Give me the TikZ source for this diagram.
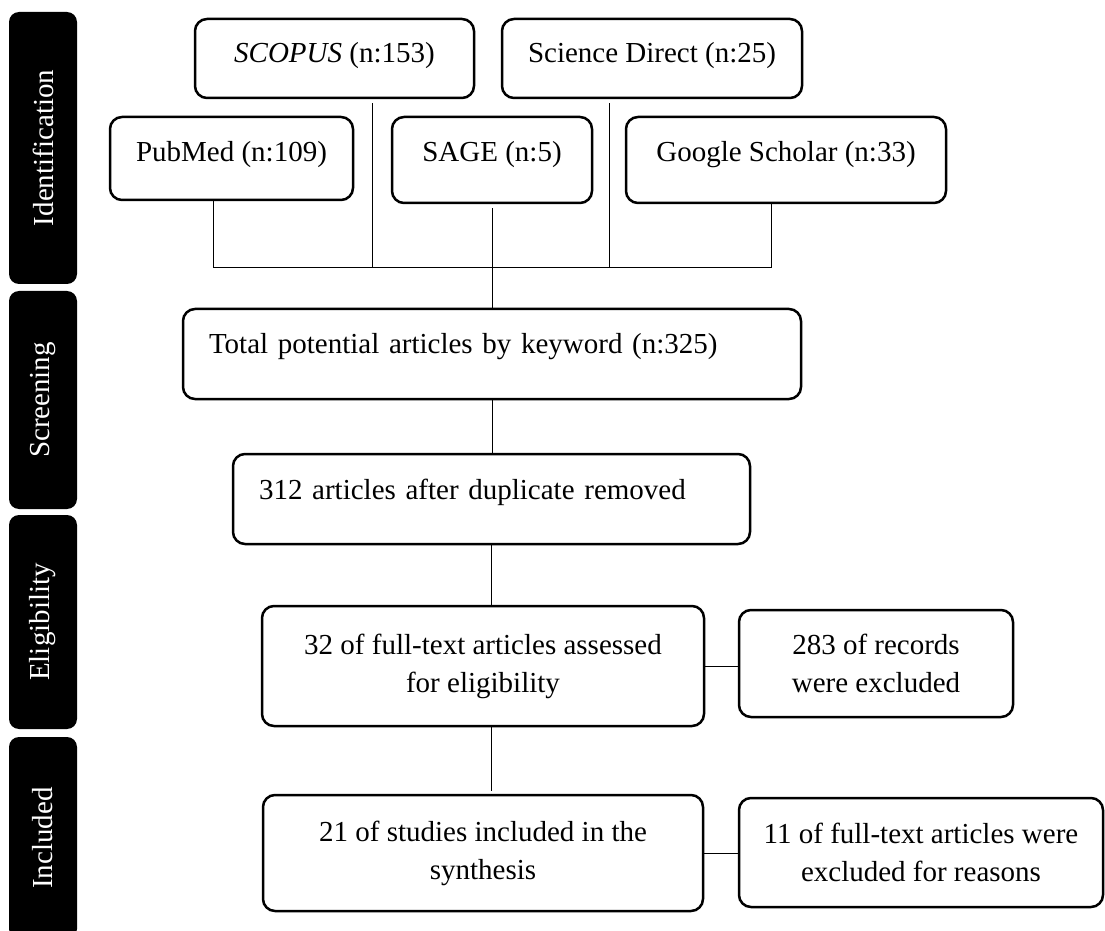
\documentclass[tikz,border=0pt]{standalone}
\usepackage{fontspec}
\setmainfont{Liberation Serif}
\usepackage{tikz}

\begin{document}
\begin{tikzpicture}[x=0.5pt, y=-0.5pt,
    every node/.style={font=\fontsize{14.5}{19}\selectfont},
    phase/.style={fill=black, text=white, rounded corners=5pt, rotate=90, minimum height=34pt, inner sep=0pt},
    srcbox/.style={draw, line width=1.25pt, rounded corners=6pt, align=center},
    connector/.style={line width=0.5pt}]
             \useasboundingbox (0,0) rectangle (1105,931);

             \node[phase, minimum width=136pt] (ident) at (43,148) {Identification};
             \node[phase, minimum width=109pt] (screen) at (43,400) {Screening};
             \node[phase, minimum width=107pt] (elig) at (43,622) {Eligibility};
             \node[phase, minimum width=101pt] (included) at (43,838) {Included};

             \node[srcbox, minimum width=139.5pt, minimum height=39.5pt, text height=10pt, text depth=6pt] (scopus) at (334.5,58.5) {\textit{SCOPUS} (n:153)};
             \node[srcbox, minimum width=150pt, minimum height=39.5pt, text height=10pt, text depth=6pt] (scidir) at (652,58.5) {Science Direct (n:25)};
             \node[srcbox, minimum width=121.5pt, minimum height=41.5pt, text height=10pt, text depth=7pt] (pubmed) at (231.5,158.5) {PubMed (n:109)};
             \node[srcbox, minimum width=100pt, minimum height=43pt, text height=10pt, text depth=8pt] (sage) at (492,160) {SAGE (n:5)};
             \node[srcbox, minimum width=160pt, minimum height=43pt, text height=10pt, text depth=8pt] (google) at (786,160) {Google Scholar (n:33)};

             \node[srcbox, align=left, inner xsep=13pt, text width=283pt, minimum height=45pt, text height=10pt, text depth=11pt] (total) at (492,354) {Total potential articles by keyword (n:325)};
             \node[srcbox, align=left, inner xsep=13pt, text width=232.5pt, minimum height=45pt, text height=10pt, text depth=9.5pt] (dup) at (491.5,499) {312 articles after duplicate removed};
             \node[srcbox, minimum width=221pt, minimum height=60pt] (assess) at (483,666) {32 of full-text articles assessed\\for eligibility};
             \node[srcbox, minimum width=137pt, minimum height=53.5pt] (excl) at (876,663.5) {283 of records\\were excluded};
             \node[srcbox, minimum width=220pt, minimum height=58pt] (synth) at (483,853) {21 of studies included in the\\synthesis};
             \node[srcbox, minimum width=182pt, minimum height=54.5pt] (reason) at (921,852.5) {11 of full-text articles were\\excluded for reasons};

             \coordinate (j1) at (213,268);
             \coordinate (j2) at (372,268);
             \coordinate (j3) at (609,268);
             \coordinate (j4) at (771,268);

             \draw[connector] (pubmed.south -| j1) -- (j1) -- (j4) -- (google.south -| j4);
             \draw[connector] ([yshift=-2pt]scopus.south -| j2) -- (j2);
             \draw[connector] ([yshift=-2pt]scidir.south -| j3) -- (j3);
             \draw[connector] ([yshift=-2pt]sage.south) -- (sage.south |- total.north);
             \draw[connector] (total.south) -- (total.south |- dup.north);
             \draw[connector] (dup.south) -- (dup.south |- assess.north);
             \draw[connector] (assess.south -| dup.south) -- ([yshift=1.5pt]synth.north -| dup.south);
             \draw[connector] (assess.east) -- (assess.east -| excl.west);
             \draw[connector] (synth.east) -- (synth.east -| reason.west);
             \end{tikzpicture}
\end{document}
